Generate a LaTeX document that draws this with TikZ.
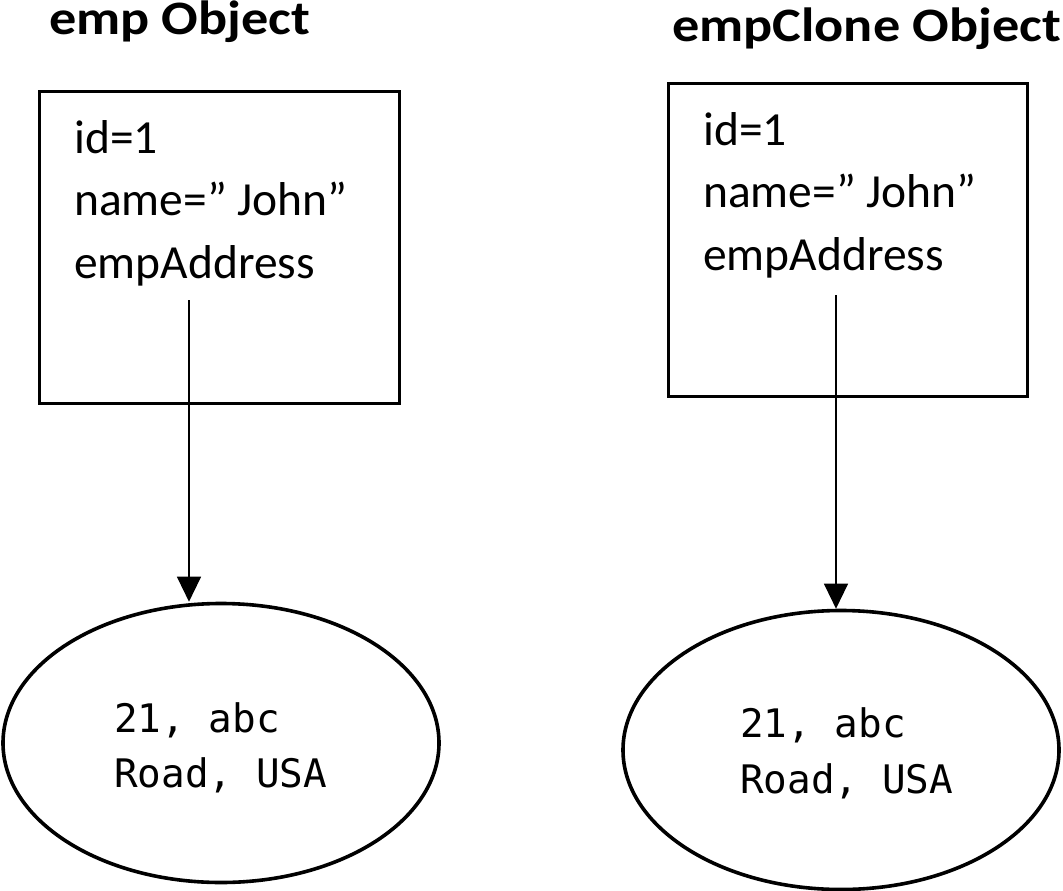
\documentclass[tikz,border=0pt]{standalone}
\usepackage{fontspec}
\setmainfont{Carlito}
\newfontfamily\monofont{DejaVu Sans Mono}
\newfontfamily\titlefont[FakeStretch=1.13]{Carlito}
\usetikzlibrary{shapes.geometric,arrows.meta}
\begin{document}
\begin{tikzpicture}[x=1pt,y=-1pt,
  title/.style={anchor=base west,inner sep=0pt,font=\titlefont\fontsize{48}{54}\selectfont\bfseries},
  field/.style={anchor=base west,inner sep=0pt,font=\fontsize{47.5}{52}\selectfont},
  addr/.style={anchor=base west,inner sep=0pt,font=\monofont\fontsize{39.3}{44}\selectfont},
  objbox/.style={draw,line width=3pt,minimum width=360pt,minimum height=312pt,inner sep=0pt},
  addrell/.style={draw,ellipse,line width=3.6pt,minimum width=436pt,minimum height=279pt,inner sep=0pt},
  ref/.style={line width=1.2pt,-{Triangle[width=24pt,length=25pt]}}]
\useasboundingbox (0,0) rectangle (1063,891);
% titles
\node[title] (t1) at (49,35) {emp Object};
\node[title] (t2) at (672,42) {empClone Object};
% boxes
\node[objbox] (b1) at (219,247) {};
\node[objbox,minimum width=359pt] (b2) at (847.5,240) {};
% fields
\node[field] (f11) at (74,153) {id=1};
\node[field] (f12) at (74,215) {name=” John”};
\node[field] (f13) at (74,278) {empAddress};
\node[field] (f21) at (703,145) {id=1};
\node[field] (f22) at (703,207) {name=” John”};
\node[field] (f23) at (703,270) {empAddress};
% ellipses
\node[addrell] (e1) at (221,743) {};
\node[addrell] (e2) at (841,750) {};
\node[addr] (a11) at (114,732) {21, abc};
\node[addr] (a12) at (114,787) {Road, USA};
\node[addr] (a21) at (740,737) {21, abc};
\node[addr] (a22) at (740,793) {Road, USA};
% references
\coordinate (s1) at (189,300);
\coordinate (s2) at (836,295);
\draw[ref] (s1) -- (s1 |- e1.north);
\draw[ref] (s2) -- (s2 |- e2.north);
\end{tikzpicture}
\end{document}
